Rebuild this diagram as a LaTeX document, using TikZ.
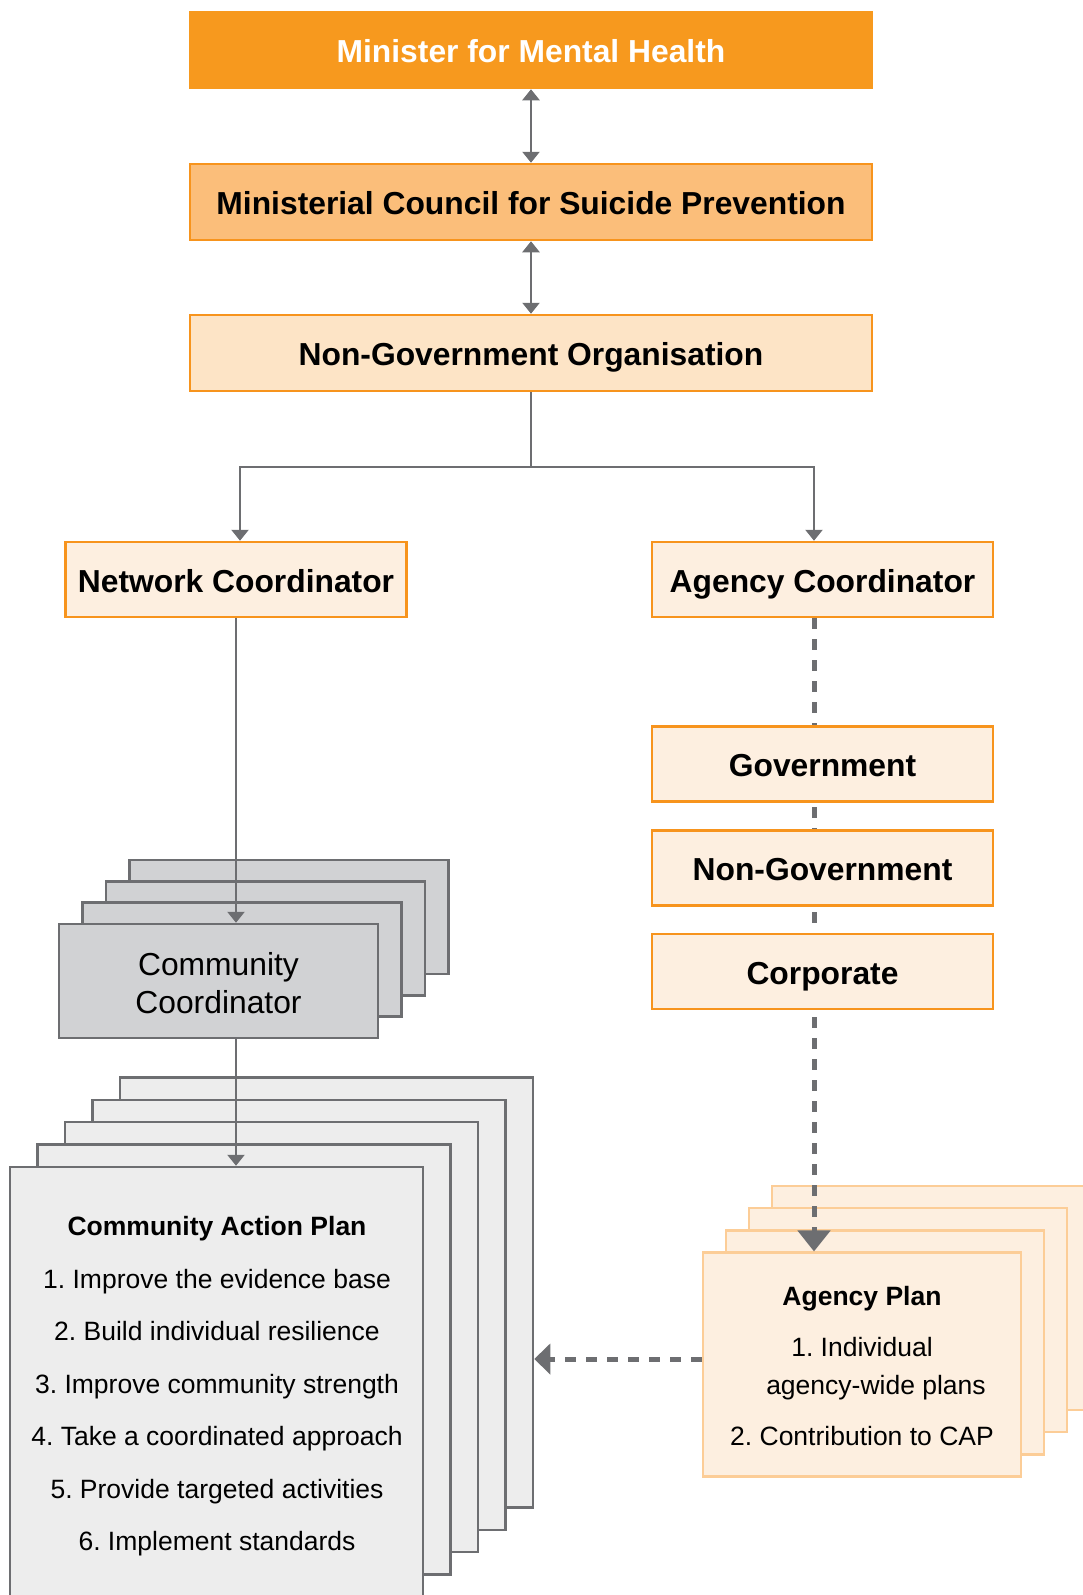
\documentclass[tikz,border=0pt]{standalone}
\usepackage{fontspec}
\setmainfont{Liberation Sans}
\frenchspacing
\usetikzlibrary{arrows.meta}
\definecolor{orangeA}{HTML}{F7991E}
\definecolor{orangeB}{HTML}{FBBE7A}
\definecolor{orangeC}{HTML}{FDE4C6}
\definecolor{orangeD}{HTML}{FDEFE0}
\definecolor{orangeLine}{HTML}{F7941D}
\definecolor{apLine}{HTML}{FCCD97}
\definecolor{grayLine}{HTML}{6D6E71}
\definecolor{ccFill}{HTML}{D1D2D4}
\definecolor{capFill}{HTML}{EDEDED}
\begin{document}
\begin{tikzpicture}[x=1pt,y=-1pt,
  obox/.style={draw=orangeLine, line width=2.5pt, inner sep=0pt, align=center,
    text height=25.6pt, text depth=0pt,
    font=\fontsize{31.8}{38}\selectfont\bfseries},
  wide/.style={minimum width=682pt, minimum height=76pt},
  side/.style={minimum width=341pt, minimum height=75pt, fill=orangeD},
  ccbox/.style={draw=grayLine, line width=2.5pt, fill=ccFill, inner sep=0pt,
    minimum width=319pt, minimum height=114pt, align=center,
    font=\fontsize{31.8}{38.6}\selectfont},
  capbox/.style={draw=grayLine, line width=2.5pt, fill=capFill, inner sep=0pt,
    minimum width=413pt, minimum height=430pt},
  apbox/.style={draw=apLine, line width=2.5pt, fill=orangeD, inner sep=0pt,
    minimum width=318pt, minimum height=224pt},
  conn/.style={draw=grayLine, line width=2.5pt, line join=miter},
  arr/.style={conn, -{Triangle[width=17pt,length=11pt]}},
  darr/.style={conn, {Triangle[width=17pt,length=11pt]}-{Triangle[width=17pt,length=11pt]}},
  dashline/.style={draw=grayLine, line width=5pt, dash pattern=on 10.5pt off 10.5pt},
  bigarr/.style={dashline, -{Triangle[width=32pt,length=21pt]}},
  plantext/.style={inner sep=0pt, align=center}
]
\useasboundingbox (0,0) rectangle (1083,1595);
\clip (0,0) rectangle (1083,1595);

% top chain
\node[obox, wide, fill=orangeA, draw=orangeA, text=white] (min) at (531,50) {Minister for Mental Health};
\node[obox, wide, fill=orangeB] (mcsp) at (531,202) {Ministerial Council for Suicide Prevention};
\node[obox, wide, fill=orangeC] (ngo) at (531,353) {Non-Government Organisation};
\draw[darr] (min.south) -- (mcsp.north);
\draw[darr] (mcsp.south) -- (ngo.north);

% coordinators
\node[obox, side] (nc) at (236,579.5) {Network Coordinator};
\node[obox, side] (ac) at (822.5,579.5) {Agency Coordinator};
\coordinate (lj) at (240,467);
\coordinate (rj) at (814,467);
\draw[arr] (ngo.south) |- (lj) -- (lj |- nc.north);
\draw[arr] (ngo.south) |- (rj) -- (rj |- ac.north);

% community coordinator stack
\node[ccbox] (cc4) at (289,917.1) {};
\node[ccbox] (cc3) at (265.5,938.4) {};
\node[ccbox] (cc2) at (242,959.7) {};
\node[ccbox] (cc) at (218.5,981) {};
\node[plantext, font=\fontsize{31.8}{38.6}\selectfont] (cctext) at (218.5,983) {Community\\Coordinator};
\draw[arr] (nc.south) -- (nc.south |- cc.north);

% community action plan stack
\node[capbox] (cap5) at (326.5,1292.4) {};
\node[capbox] (cap4) at (299,1314.8) {};
\node[capbox] (cap3) at (271.5,1337.2) {};
\node[capbox] (cap2) at (244,1359.6) {};
\node[capbox] (cap) at (216.5,1382) {};
\node[plantext, font=\fontsize{26.5}{52.5}\selectfont] (captext) at (217,1386.5)
  {\textbf{Community Action Plan}\\
   1. Improve the evidence base\\
   2. Build individual resilience\\
   3. Improve community strength\\
   4. Take a coordinated approach\\
   5. Provide targeted activities\\
   6. Implement standards};
\draw[arr] (nc.south |- cc.south) -- (nc.south |- cap.north);

% agency plan stack
\node[apbox] (ap4) at (931,1297.8) {};
\node[apbox] (ap3) at (908,1320.1) {};
\node[apbox] (ap2) at (885,1342.4) {};
\node[apbox] (ap) at (862,1364.7) {};
\node[plantext, font=\fontsize{26.5}{37.6}\selectfont] (aptext) at (862,1366)
  {\textbf{Agency Plan}\\[13.4pt]
   1. Individual\\
   \hspace*{28pt}agency-wide plans\\[13.4pt]
   2. Contribution to CAP};

% dashed link from agency coordinator to agency plan
\draw[bigarr] (rj |- ac.south) -- (rj |- ap.north);

% agency types (drawn over the dashed line)
\node[obox, side] (gov) at (822.5,764) {Government};
\node[obox, side] (nongov) at (822.5,868) {Non-Government};
\node[obox, side] (corp) at (822.5,971.5) {Corporate};

% dashed link from agency plan to community action plan
\draw[dashline, -{Triangle[width=30pt,length=16pt]}] ([yshift=5.7pt]ap.west) -- ([yshift=5.7pt]ap.west -| cap5.east);
\end{tikzpicture}
\end{document}
